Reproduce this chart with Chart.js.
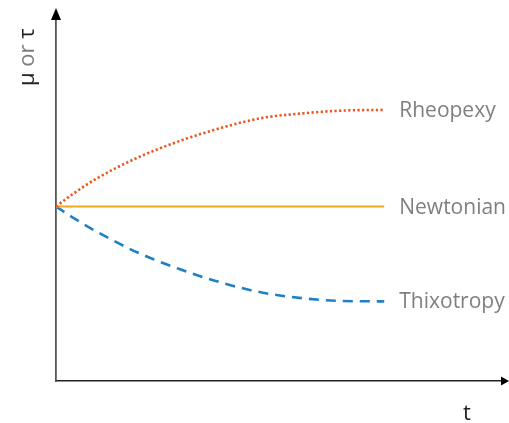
<!DOCTYPE html>
<html>
<head>
<meta charset="utf-8">
<script src="https://cdn.jsdelivr.net/npm/chart.js@4"></script>
<style>
html,body{margin:0;padding:0;background:#fff;}
#wrap{width:509px;height:423px;}
</style>
</head>
<body>
<div id="wrap"><canvas id="c" width="509" height="423"></canvas></div>
<script>
// Data (arbitrary units, t from 0..100, value from 0..100)
const tValues    = [0, 3.7, 9.2, 18.3, 27.5, 36.7, 45.9, 55.0, 64.2, 73.6];
const rheopexy   = [48.2, 51.6, 56.0, 61.7, 66.2, 69.8, 72.6, 73.9, 74.7, 74.9];
const newtonian  = [48.2, 48.2, 48.2, 48.2, 48.2, 48.2, 48.2, 48.2, 48.2, 48.2];
const thixotropy = [48.2, 45.2, 41.2, 35.5, 31.0, 27.3, 24.5, 22.9, 22.1, 22.0];
const seriesNames = ["Rheopexy", "Newtonian", "Thixotropy"];
const xAxisLabel = "t";
const yAxisParts = ["μ", " or ", "τ"];

const pts = arr => arr.map((v, i) => ({x: tValues[i], y: v}));

const FONT = '"Open Sans", sans-serif';

const decor = {
  id: 'decor',
  afterDatasetsDraw(chart) {
    const ctx = chart.ctx;
    const xs = chart.scales.x, ys = chart.scales.y;
    ctx.save();
    // end labels
    ctx.font = '21px ' + FONT;
    ctx.fillStyle = '#7f7f7f';
    ctx.textBaseline = 'middle';
    ctx.textAlign = 'left';
    chart.data.datasets.forEach((ds, i) => {
      const meta = chart.getDatasetMeta(i);
      const last = meta.data[meta.data.length - 1];
      ctx.fillText(ds.label, last.x + 15, last.y + 1);
    });
    // arrowheads
    ctx.fillStyle = '#000';
    const ax = xs.left, ay = ys.top;
    ctx.beginPath();
    ctx.moveTo(ax - 5, ay + 1);
    ctx.lineTo(ax + 5, ay + 1);
    ctx.lineTo(ax, ay - 11);
    ctx.closePath();
    ctx.fill();
    const bx = xs.right, by = ys.bottom;
    ctx.beginPath();
    ctx.moveTo(bx - 1, by - 4.5);
    ctx.lineTo(bx - 1, by + 4.5);
    ctx.lineTo(bx + 7, by);
    ctx.closePath();
    ctx.fill();
    // x axis title
    ctx.font = '22px ' + FONT;
    ctx.fillStyle = '#222';
    ctx.textAlign = 'center';
    ctx.textBaseline = 'alphabetic';
    ctx.fillText(xAxisLabel, 467, 420);
    // y axis title, rotated
    ctx.translate(34, 86);
    ctx.rotate(-Math.PI / 2);
    ctx.textAlign = 'left';
    let px = 0;
    const cols = ['#222', '#7f7f7f', '#222'];
    yAxisParts.forEach((p, i) => {
      ctx.fillStyle = cols[i];
      ctx.fillText(p, px, 0);
      px += ctx.measureText(p).width;
    });
    ctx.restore();
  }
};

new Chart(document.getElementById('c'), {
  type: 'line',
  data: {
    datasets: [
      {label: seriesNames[0], data: pts(rheopexy), borderColor: '#e8561e', borderWidth: 2.6, borderDash: [2.2, 2.4], borderCapStyle: 'butt', cubicInterpolationMode: 'monotone', pointRadius: 0, fill: false},
      {label: seriesNames[1], data: pts(newtonian), borderColor: '#f2a91e', borderWidth: 2.2, cubicInterpolationMode: 'monotone', pointRadius: 0, fill: false},
      {label: seriesNames[2], data: pts(thixotropy), borderColor: '#1f80c6', borderWidth: 2.6, borderDash: [10, 7], borderCapStyle: 'butt', cubicInterpolationMode: 'monotone', pointRadius: 0, fill: false}
    ]
  },
  options: {
    responsive: false,
    animation: false,
    events: [],
    layout: {padding: {left: 56, top: 19, right: 7, bottom: 42}},
    plugins: {legend: {display: false}, tooltip: {enabled: false}},
    scales: {
      x: {type: 'linear', min: 0, max: 100,
          grid: {display: false}, ticks: {display: false},
          afterFit(s) { s.height = 0; },
          border: {display: true, color: '#222', width: 1.6}},
      y: {type: 'linear', min: 0, max: 100,
          grid: {display: false}, ticks: {display: false},
          afterFit(s) { s.width = 0; },
          border: {display: true, color: '#555', width: 1.8}}
    }
  },
  plugins: [decor]
});
</script>
</body>
</html>
